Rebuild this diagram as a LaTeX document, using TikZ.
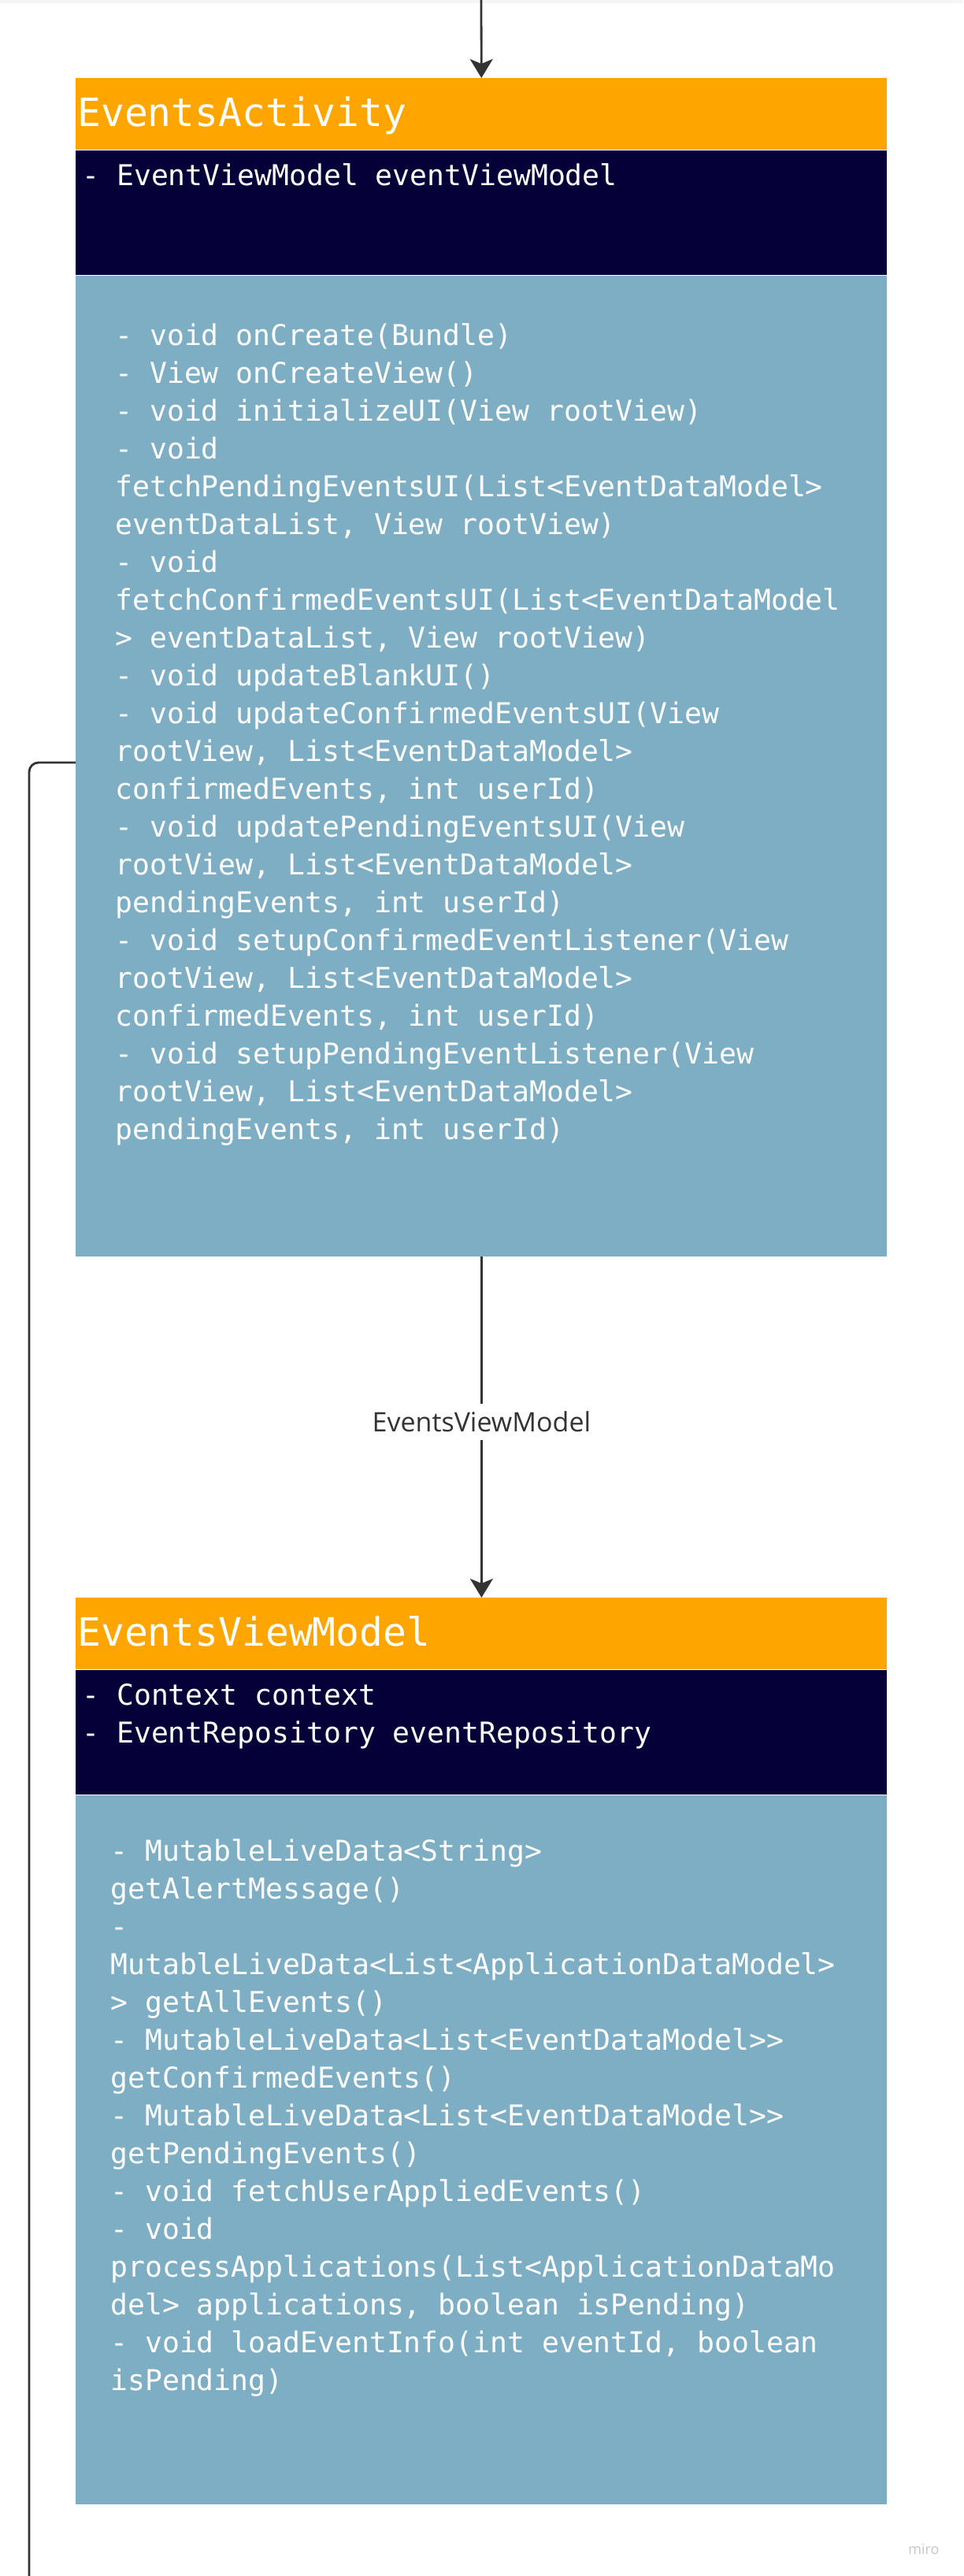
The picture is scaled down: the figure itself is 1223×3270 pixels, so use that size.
\documentclass[tikz,border=0pt]{standalone}
\usepackage{fontspec}
\newfontfamily\codefont{DejaVu Sans Mono}
\newfontfamily\labelfont{Open Sans}
\usepackage{xcolor}
\usetikzlibrary{positioning, arrows.meta}
\definecolor{miroorange}{HTML}{FFA500}
\definecolor{mironavy}{HTML}{050038}
\definecolor{miroblue}{HTML}{7EAEC4}
\definecolor{linegray}{HTML}{333333}
\tikzset
{
    x=0.5pt, y=-0.5pt, % one unit is one pixel of the screenshot, y goes down
    node distance=0pt, % the three bands of a class sit right on each other
    codetext/.style={align=left, text=white, inner ysep=0pt,
        execute at begin node={\spaceskip=0.602em\xspaceskip=0.602em\relax}}, % align=left would shrink the spaces
    classtitle/.style={codetext, anchor=north west, fill=miroorange,
        font=\fontsize{24.8}{30}\selectfont\codefont, inner xsep=1pt,
        text width=513pt, text height=30.5pt, text depth=15pt},
    classattr/.style={codetext, fill=mironavy,
        font=\fontsize{18.2}{24}\selectfont\codefont, inner xsep=4pt,
        text width=507pt, text height=22pt, text depth=57pt},
    classops/.style={codetext, fill=miroblue,
        font=\fontsize{18.2}{24}\selectfont\codefont},
    link/.style={draw=linegray, line width=1.4pt, -{Stealth[length=12pt, width=14.5pt, inset=3pt]}},
    wire/.style={draw=linegray, line width=1.4pt, rounded corners=6pt},
    edgelabel/.style={fill=white, text=linegray, font=\fontsize{17}{20}\selectfont\labelfont,
        inner xsep=3pt, inner ysep=5pt},
}
\begin{document}
\begin{tikzpicture}
    \useasboundingbox (0,0) rectangle (1223,3270);
    \fill[gray!8] (0,0) rectangle (1223,4);

    % EventsActivity
    \node[classtitle] (act) at (96,99) {EventsActivity};
    \node[classattr, below=of act] (actattr) {- EventViewModel eventViewModel};
    \node[classops, below=of actattr, inner xsep=25pt, text width=465pt, text height=44pt, text depth=578.5pt] (actops) {%
        - void onCreate(Bundle)\\
        - View onCreateView()\\
        - void initializeUI(View rootView)\\
        - void\\
        fetchPendingEventsUI(List<EventDataModel>\\
        eventDataList, View rootView)\\
        - void\\
        fetchConfirmedEventsUI(List<EventDataModel\\
        > eventDataList, View rootView)\\
        - void updateBlankUI()\\
        - void updateConfirmedEventsUI(View\\
        rootView, List<EventDataModel>\\
        confirmedEvents, int userId)\\
        - void updatePendingEventsUI(View\\
        rootView, List<EventDataModel>\\
        pendingEvents, int userId)\\
        - void setupConfirmedEventListener(View\\
        rootView, List<EventDataModel>\\
        confirmedEvents, int userId)\\
        - void setupPendingEventListener(View\\
        rootView, List<EventDataModel>\\
        pendingEvents, int userId)};

    % EventsViewModel
    \node[classtitle] (vm) at (96,2028) {EventsViewModel};
    \node[classattr, below=of vm] (vmattr) {- Context context\\- EventRepository eventRepository};
    \node[classops, below=of vmattr, inner xsep=22pt, text width=471pt, text height=41.5pt, text depth=408.5pt] (vmops) {%
        - MutableLiveData<String>\\
        getAlertMessage()\\
        -\\
        MutableLiveData<List<ApplicationDataModel>\\
        > getAllEvents()\\
        - MutableLiveData<List<EventDataModel>>\\
        getConfirmedEvents()\\
        - MutableLiveData<List<EventDataModel>>\\
        getPendingEvents()\\
        - void fetchUserAppliedEvents()\\
        - void\\
        processApplications(List<ApplicationDataMo\\
        del> applications, boolean isPending)\\
        - void loadEventInfo(int eventId, boolean\\
        isPending)};

    % connectors
    \coordinate (topin) at (611,0);
    \coordinate (bend) at (37,968);
    \coordinate (leftend) at (37,3270);
    \draw[link] (topin) -- (act);
    \draw[link] (actops) -- node[pos=0.485, edgelabel] {EventsViewModel} (vm);
    \draw[wire] (bend -| actops.west) -- (bend) -- (leftend);

    \node[text=gray!45, font=\fontsize{9}{10}\selectfont\labelfont] (mirotag) at (1173,3236) {miro};
\end{tikzpicture}
\end{document}
